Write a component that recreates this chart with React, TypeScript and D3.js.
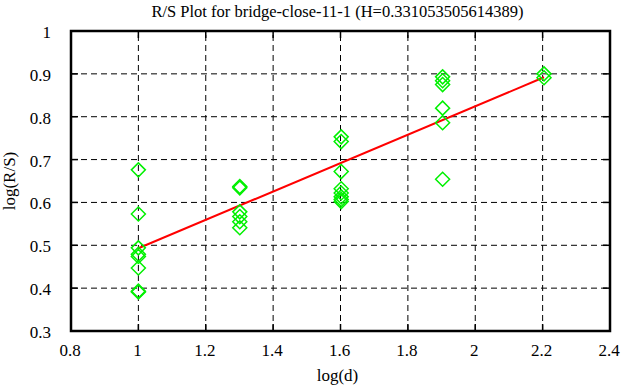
import React from 'react';
import * as d3 from 'd3';

const titleText = 'R/S Plot for bridge-close-11-1 (H=0.331053505614389)';
const xTicks = [0.8, 1, 1.2, 1.4, 1.6, 1.8, 2, 2.2, 2.4];
const yTicks = [0.3, 0.4, 0.5, 0.6, 0.7, 0.8, 0.9, 1];

// log(d) for each group of points
const groupX = [1, 1.30103, 1.60206, 1.90309, 2.20412];
// log(R/S) values, one list per group
const groupY = [
  [0.676, 0.573, 0.494, 0.479, 0.474, 0.447, 0.393, 0.391],
  [0.637, 0.634, 0.578, 0.567, 0.555, 0.541],
  [0.753, 0.742, 0.672, 0.632, 0.622, 0.613, 0.607, 0.602],
  [0.893, 0.884, 0.875, 0.82, 0.786, 0.654],
  [0.9, 0.891],
];
// fitted line end points
const fitLine: [number, number][] = [
  [1, 0.493],
  [2.20412, 0.892],
];

export default function App() {
  const width = 626;
  const height = 387;
  const margin = { top: 31, right: 16, bottom: 56, left: 71 };
  const x = d3.scaleLinear().domain([0.8, 2.4]).range([margin.left, width - margin.right]);
  const y = d3.scaleLinear().domain([0.3, 1]).range([height - margin.bottom, margin.top]);

  const line = d3
    .line<[number, number]>()
    .x((d) => x(d[0]))
    .y((d) => y(d[1]));

  const points = groupX.flatMap((gx, i) => groupY[i].map((gy) => [gx, gy]));
  const r = 7;
  const font = '"Liberation Serif", "Times New Roman", serif';
  const x0 = x(0.8);
  const x1 = x(2.4);
  const y0 = y(0.3);
  const y1 = y(1);

  return (
    <svg
      width={width}
      height={height}
      style={{ position: 'absolute', left: 0, top: 0, background: '#fff', fontFamily: font }}
    >
      <text x={(x0 + x1) / 2 - 3} y={17} textAnchor="middle" fontSize={16.5}>
        {titleText}
      </text>

      {xTicks.slice(1, -1).map((t) => (
        <line key={'gx' + t} x1={x(t)} x2={x(t)} y1={y0} y2={y1} stroke="#000" strokeDasharray="6,4" />
      ))}
      {yTicks.slice(1, -1).map((t) => (
        <line key={'gy' + t} x1={x0} x2={x1} y1={y(t)} y2={y(t)} stroke="#000" strokeDasharray="6,4" />
      ))}

      {xTicks.map((t) => (
        <g key={'tx' + t}>
          <line x1={x(t)} x2={x(t)} y1={y0} y2={y0 - 7} stroke="#000" strokeWidth={1.5} />
          <line x1={x(t)} x2={x(t)} y1={y1} y2={y1 + 7} stroke="#000" strokeWidth={1.5} />
          <text x={x(t) - 1} y={y0 + 25} textAnchor="middle" fontSize={17}>
            {String(t)}
          </text>
        </g>
      ))}
      {yTicks.map((t) => (
        <g key={'ty' + t}>
          <line x1={x0} x2={x0 + 7} y1={y(t)} y2={y(t)} stroke="#000" strokeWidth={1.5} />
          <line x1={x1} x2={x1 - 7} y1={y(t)} y2={y(t)} stroke="#000" strokeWidth={1.5} />
          <text x={x0 - 20} y={y(t) + 7} textAnchor="end" fontSize={17}>
            {String(t)}
          </text>
        </g>
      ))}

      <path d={line(fitLine) || ''} stroke="#ff0000" strokeWidth={2} fill="none" />

      {points.map((p, i) => {
        const cx = x(p[0]);
        const cy = y(p[1]);
        return (
          <path
            key={'p' + i}
            d={`M${cx},${cy - r}L${cx + r},${cy}L${cx},${cy + r}L${cx - r},${cy}Z`}
            fill="none"
            stroke="#00f000"
            strokeWidth={1.5}
          />
        );
      })}

      <rect x={x0} y={y1} width={x1 - x0} height={y0 - y1} fill="none" stroke="#000" strokeWidth={2.5} />

      <text x={(x0 + x1) / 2 - 3} y={381} textAnchor="middle" fontSize={17}>
        log(d)
      </text>
      <text
        transform={`translate(${15},${(y0 + y1) / 2}) rotate(-90)`}
        textAnchor="middle"
        fontSize={17}
      >
        log(R/S)
      </text>
    </svg>
  );
}
